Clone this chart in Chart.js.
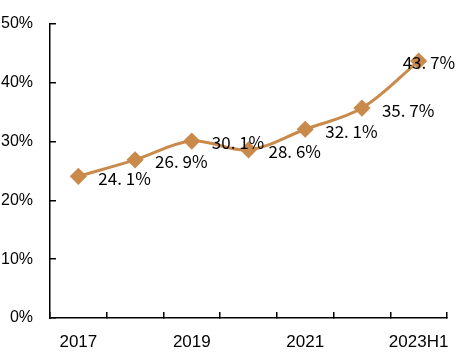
<!DOCTYPE html>
<html><head><meta charset="utf-8">
<script src="https://cdn.jsdelivr.net/npm/chart.js@4/dist/chart.umd.min.js"></script>
<style>html,body{margin:0;padding:0;background:#fff}#wrap{width:462px;height:355px}</style>
</head><body><div id="wrap"><canvas id="c"></canvas></div>
<script>
const categories = ['2017','2018','2019','2020','2021','2022','2023H1'];
const values = [24.1, 26.9, 30.1, 28.6, 32.1, 35.7, 43.7];
const valueLabels = ['24. 1%','26. 9%','30. 1%','28. 6%','32. 1%','35. 7%','43. 7%'];
const yTicks = [0,10,20,30,40,50];

const lineColor = '#C98A4B';

const labelPlugin = {
  id: 'valueLabels',
  afterDatasetsDraw(chart) {
    const ctx = chart.ctx;
    const meta = chart.getDatasetMeta(0);
    ctx.save();
    ctx.font = '17px "Noto Sans CJK SC", sans-serif';
    ctx.fillStyle = '#000';
    ctx.textBaseline = 'middle';
    ctx.textAlign = 'left';
    meta.data.forEach((pt, i) => {
      const dx = (i === meta.data.length - 1) ? -16 : 20;
      ctx.fillText(valueLabels[i], pt.x + dx, pt.y + 2);
    });
    ctx.restore();
  }
};

new Chart(document.getElementById('c'), {
  type: 'line',
  data: {
    labels: categories,
    datasets: [{
      data: values,
      borderColor: lineColor,
      backgroundColor: lineColor,
      borderWidth: 3,
      tension: 0.35,
      pointStyle: 'rectRot',
      pointRadius: 6.5,
      pointHoverRadius: 6.5,
      pointBackgroundColor: lineColor,
      pointBorderColor: lineColor,
      clip: false
    }]
  },
  options: {
    responsive: true,
    maintainAspectRatio: false,
    animation: false,
    events: [],
    layout: { padding: { top: 24, right: 15, left: 0, bottom: 0 } },
    plugins: { legend: { display: false }, tooltip: { enabled: false } },
    scales: {
      x: {
        offset: true,
        grid: { display: true, offset: true, drawOnChartArea: false, drawTicks: true, tickLength: -6, color: '#000', lineWidth: 1.5 },
        border: { display: true, color: '#000', width: 1.5 },
        ticks: {
          autoSkip: false, maxRotation: 0, padding: 20, color: '#000',
          font: { family: '"Liberation Sans", Arial, sans-serif', size: 17 },
          callback: (v, i) => (i % 2 === 0 ? categories[i] : '')
        },
        afterFit: s => { s.height = 37; s.paddingLeft = 0; s.paddingRight = 0; }
      },
      y: {
        min: 0, max: 50,
        afterBuildTicks: s => { s.ticks = yTicks.map(v => ({ value: v })); },
        grid: { display: true, drawOnChartArea: false, drawTicks: true, tickLength: -6, color: '#000', lineWidth: 1.5 },
        border: { display: true, color: '#000', width: 1.5 },
        ticks: {
          padding: 23, color: '#000',
          font: { family: '"Liberation Sans", Arial, sans-serif', size: 16 },
          callback: v => v + '%'
        },
        afterFit: s => { s.width = 50; s.paddingTop = 0; s.paddingBottom = 0; }
      }
    }
  },
  plugins: [labelPlugin]
});
</script>
</body></html>
